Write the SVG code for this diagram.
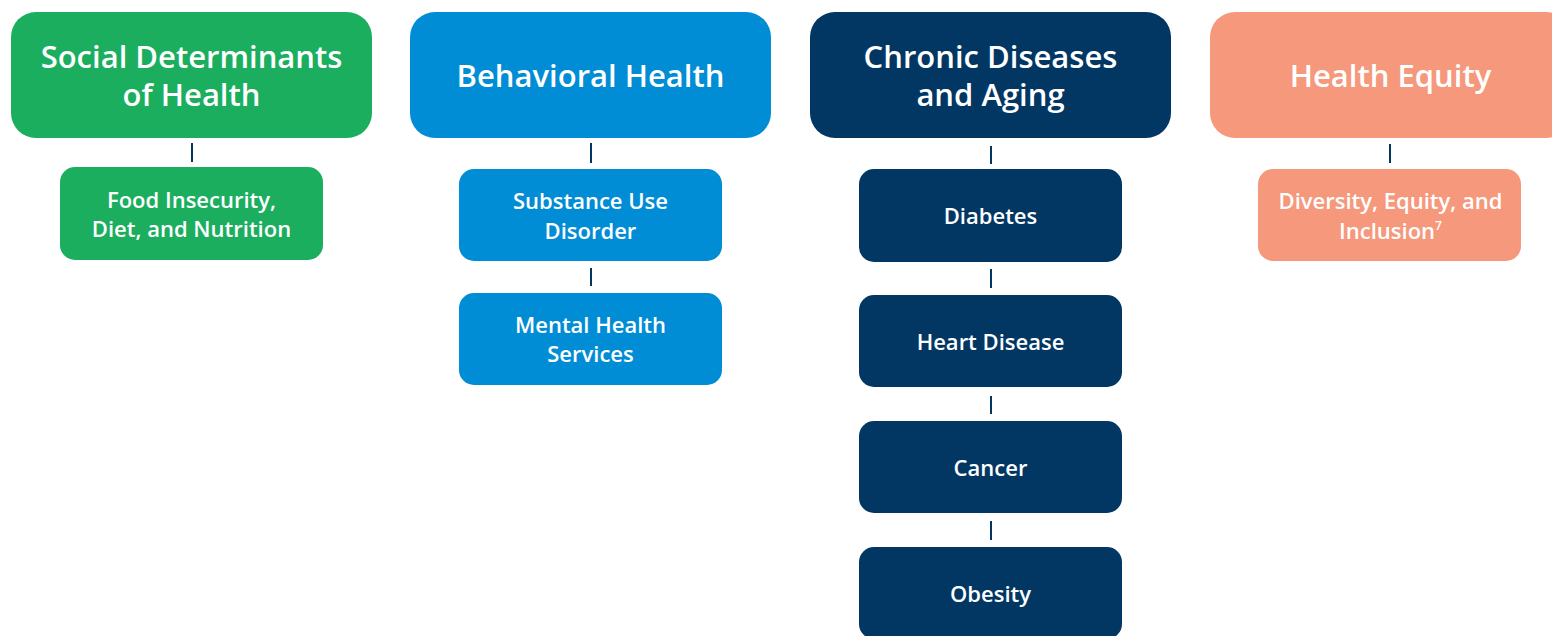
<svg xmlns="http://www.w3.org/2000/svg" width="1552" height="636" viewBox="0 0 1552 636">
<style>
.h{font-family:"Open Sans","Noto Sans","Liberation Sans",sans-serif;font-weight:600;font-size:31px;fill:#fff;text-anchor:middle}
.c{font-family:"Open Sans","Noto Sans","Liberation Sans",sans-serif;font-weight:600;font-size:22px;fill:#fff;text-anchor:middle}
.g{fill:#1bae5f}.b{fill:#018dd5}.n{fill:#023764}.s{fill:#f5987c}
.ln{stroke:#023764;stroke-width:2}
</style>
<rect width="1552" height="636" fill="#fff"/>
<g id="connectors" class="ln">
<line x1="192" y1="143" x2="192" y2="162"/>
<line x1="591" y1="143" x2="591" y2="163"/>
<line x1="591" y1="268" x2="591" y2="286"/>
<line x1="991" y1="146" x2="991" y2="164"/>
<line x1="991" y1="269" x2="991" y2="288"/>
<line x1="991" y1="396" x2="991" y2="414"/>
<line x1="991" y1="521" x2="991" y2="540"/>
<line x1="1390" y1="144" x2="1390" y2="163"/>
</g>
<g id="sdoh"><rect class="g" x="11" y="12" width="361" height="126" rx="25"/><text class="h" x="191.5" y="68">Social Determinants</text><text class="h" x="191.5" y="106">of Health</text></g>
<g id="food"><rect class="g" x="60" y="167" width="263" height="93" rx="15"/><text class="c" x="191.5" y="208">Food Insecurity,</text><text class="c" x="191.5" y="237">Diet, and Nutrition</text></g>
<g id="behavioral"><rect class="b" x="410" y="12" width="361" height="126" rx="25"/><text class="h" x="590.5" y="87">Behavioral Health</text></g>
<g id="substance"><rect class="b" x="459" y="169" width="263" height="92" rx="15"/><text class="c" x="590.5" y="209">Substance Use</text><text class="c" x="590.5" y="239">Disorder</text></g>
<g id="mental"><rect class="b" x="459" y="293" width="263" height="92" rx="15"/><text class="c" x="590.5" y="333">Mental Health</text><text class="c" x="590.5" y="362">Services</text></g>
<g id="chronic"><rect class="n" x="810" y="12" width="361" height="126" rx="25"/><text class="h" x="990.5" y="68">Chronic Diseases</text><text class="h" x="990.5" y="106">and Aging</text></g>
<g id="diabetes"><rect class="n" x="859" y="169" width="263" height="93" rx="15"/><text class="c" x="990.5" y="224">Diabetes</text></g>
<g id="heart"><rect class="n" x="859" y="295" width="263" height="92" rx="15"/><text class="c" x="990.5" y="350">Heart Disease</text></g>
<g id="cancer"><rect class="n" x="859" y="421" width="263" height="92" rx="15"/><text class="c" x="990.5" y="476">Cancer</text></g>
<g id="obesity"><rect class="n" x="859" y="547" width="263" height="92" rx="15"/><text class="c" x="990.5" y="602">Obesity</text></g>
<g id="equity"><rect class="s" x="1210" y="12" width="361" height="126" rx="25"/><text class="h" x="1390.5" y="87">Health Equity</text></g>
<g id="dei"><rect class="s" x="1258" y="169" width="263" height="92" rx="15"/><text class="c" x="1390.5" y="209">Diversity, Equity, and</text><text class="c" x="1390.5" y="239">Inclusion<tspan font-size="12" dy="-9">7</tspan></text></g>
</svg>
